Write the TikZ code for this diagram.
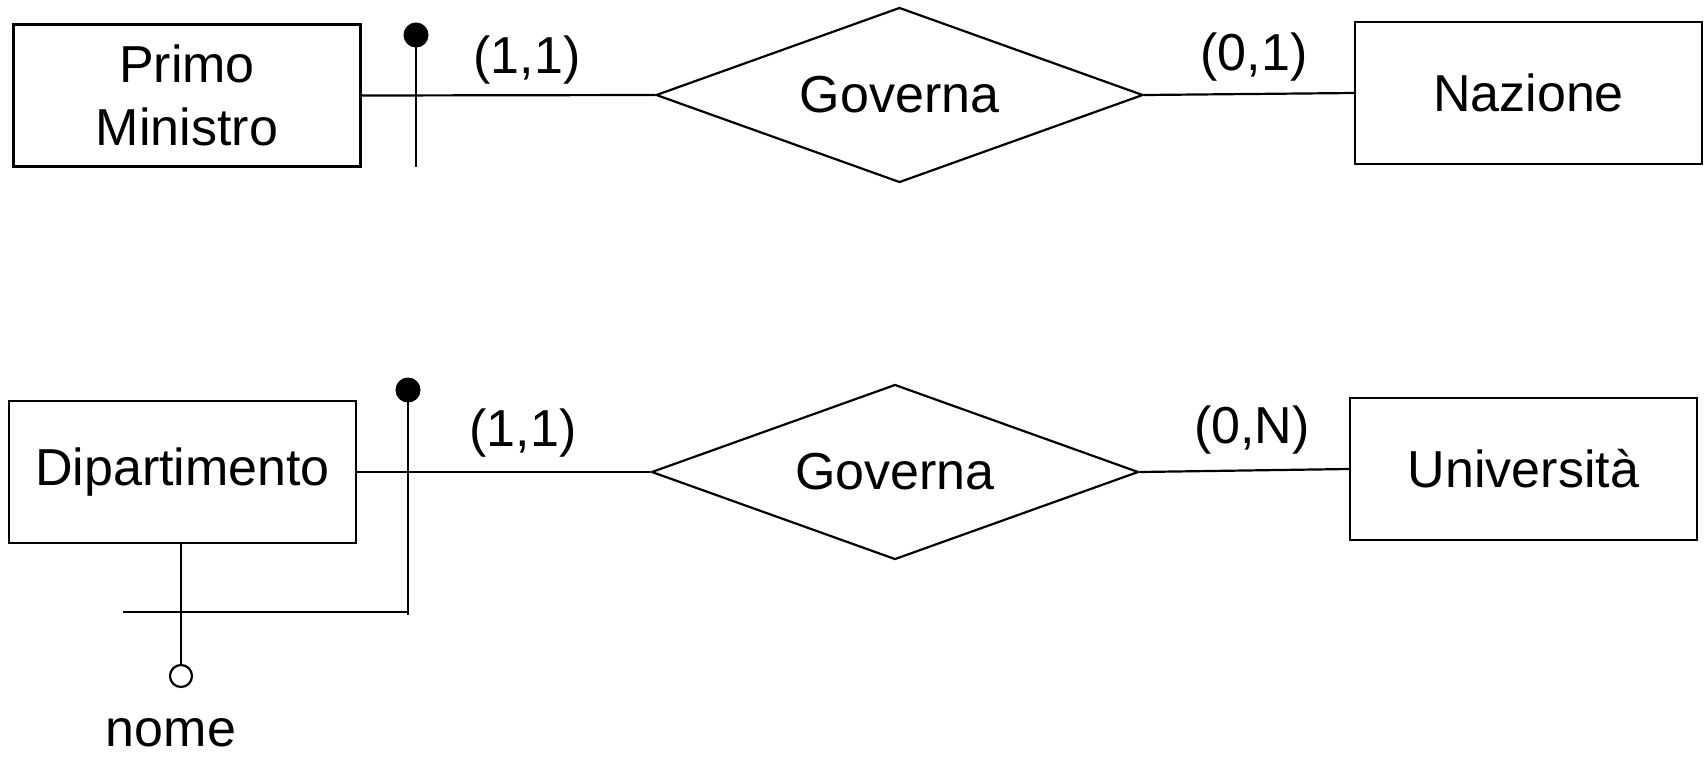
\documentclass[tikz,border=0pt]{standalone}
\usepackage{fontspec}
\setmainfont{Liberation Sans}
\usetikzlibrary{shapes.geometric}
\begin{document}
\begin{tikzpicture}[x=1pt,y=-1pt,line width=2.2pt,
  txt/.style={font=\fontsize{52}{63}\selectfont},
  entity/.style={draw,rectangle,inner sep=0pt,align=center,txt,
    minimum width=347pt,minimum height=142pt},
  relation/.style={draw,diamond,aspect=2.78,inner sep=0pt,txt,
    minimum width=487pt,minimum height=175pt},
  card/.style={inner sep=0pt,txt},
  iddot/.style={circle,draw,fill=black,line width=1pt,minimum size=24pt,inner sep=0pt},
  attrdot/.style={circle,draw,fill=white,minimum size=22pt,inner sep=0pt}]
\useasboundingbox (0,0) rectangle (1707,756);

% --- Primo Ministro -- Governa -- Nazione
\node[entity] (pm)  at (187,95.5) {Primo\\Ministro};
\node[relation] (gov1) at (899.5,95) {Governa};
\node[entity] (naz) at (1528.5,93) {Nazione};
\draw (pm.east) -- (gov1.west);
\draw (gov1.east) -- (naz.west);
\node[card] (c11a) at (527,60) {(1,1)};
\node[card] (c01)  at (1254,57) {(0,1)};
% external identifier marker
\node[iddot] (id1) at (416,35) {};
\coordinate (id1end) at (416,167);
\draw (id1.center) -- (id1end);

% --- Dipartimento -- Governa -- Università
\node[entity] (dip) at (182.5,472) {Dipartimento};
\node[relation] (gov2) at (895,472) {Governa};
\node[entity] (uni) at (1523.5,469) {Università};
\draw (dip.east) -- (gov2.west);
\draw (gov2.east) -- (uni.west);
\node[card] (c11b) at (523,433) {(1,1)};
\node[card] (c0N)  at (1252,430) {(0,N)};

% attribute nome
\node[attrdot] (nomedot) at (181,676) {};
\node[txt,inner sep=0pt] (nome) at (171,733) {nome};
\draw (dip.south -| nomedot) -- (nomedot.north);

% mixed identifier: relationship + attribute nome
\node[iddot] (id2) at (408,390) {};
\coordinate (id2corner) at (408,612);
\coordinate (id2end) at (123,612);
\draw (id2.center) -- ([yshift=-3pt]id2corner);
\draw (id2corner) -- (id2end);
\end{tikzpicture}
\end{document}
